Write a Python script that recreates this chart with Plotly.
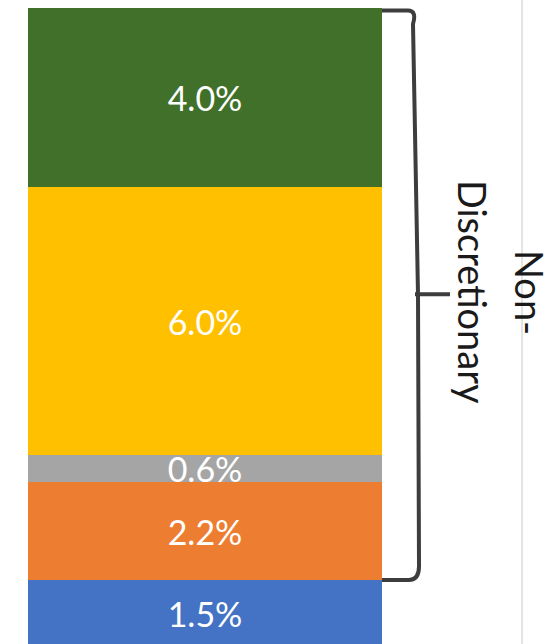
import plotly.graph_objects as go

# Stacked segments, bottom to top
segments = ["Discretionary", "Segment B", "Segment C", "Segment D", "Segment E"]
values = [1.5, 2.2, 0.6, 6.0, 4.0]
labels = ["1.5%", "2.2%", "0.6%", "6.0%", "4.0%"]
colors = ["#4472c4", "#ed7d31", "#a5a5a5", "#ffc000", "#41702a"]
brace_lines = ["Non-", "Discretionary"]

BAR_X = 205
BAR_W = 354

fig = go.Figure()
for name, v, lab, c in zip(segments, values, labels, colors):
    fig.add_trace(go.Bar(
        x=[BAR_X], y=[v], width=BAR_W, name=name,
        marker=dict(color=c, line=dict(width=0)),
        text=[lab], textposition="inside", insidetextanchor="middle",
        constraintext="none",
        textfont=dict(family="Lato", size=34, color="white"),
        hoverinfo="skip",
    ))

total = sum(values)
bottom = values[0]
mid = (total + bottom) / 2
x0 = BAR_X + BAR_W / 2

# curly brace spanning the non-discretionary segments
brace = (
    f"M {x0},{total - 0.05} L {x0+26},{total - 0.05} Q {x0+35},{total - 0.05} {x0+31},{total-0.35} "
    f"L {x0+36},{mid} "
    f"M {x0+33},{mid} L {x0+68},{mid} "
    f"M {x0+36},{mid} L {x0+37},{bottom+0.3} Q {x0+37},{bottom} {x0+27},{bottom} "
    f"L {x0},{bottom}"
)

fig.update_layout(
    barmode="stack",
    width=556, height=644,
    margin=dict(l=0, r=0, t=0, b=0),
    paper_bgcolor="white", plot_bgcolor="white",
    showlegend=False,
    bargap=0,
    xaxis=dict(range=[0, 556], visible=False, fixedrange=True),
    yaxis=dict(range=[0.067, 14.487], visible=False, fixedrange=True),
    shapes=[
        dict(type="line", xref="x", yref="paper", x0=522, x1=522, y0=0, y1=1,
             line=dict(color="#e4e4e4", width=2), layer="below"),
        dict(type="path", xref="x", yref="y", path=brace,
             line=dict(color="#3d3d3d", width=4)),
    ],
    annotations=[
        dict(x=530, y=mid + 0.05, xref="x", yref="y", text=brace_lines[0],
             showarrow=False, textangle=90,
             font=dict(family="Lato", size=38, color="#1a1a1a")),
        dict(x=473, y=mid + 0.05, xref="x", yref="y", text=brace_lines[1],
             showarrow=False, textangle=90,
             font=dict(family="Lato", size=38, color="#1a1a1a")),
    ],
)

fig.write_html("out.html")
